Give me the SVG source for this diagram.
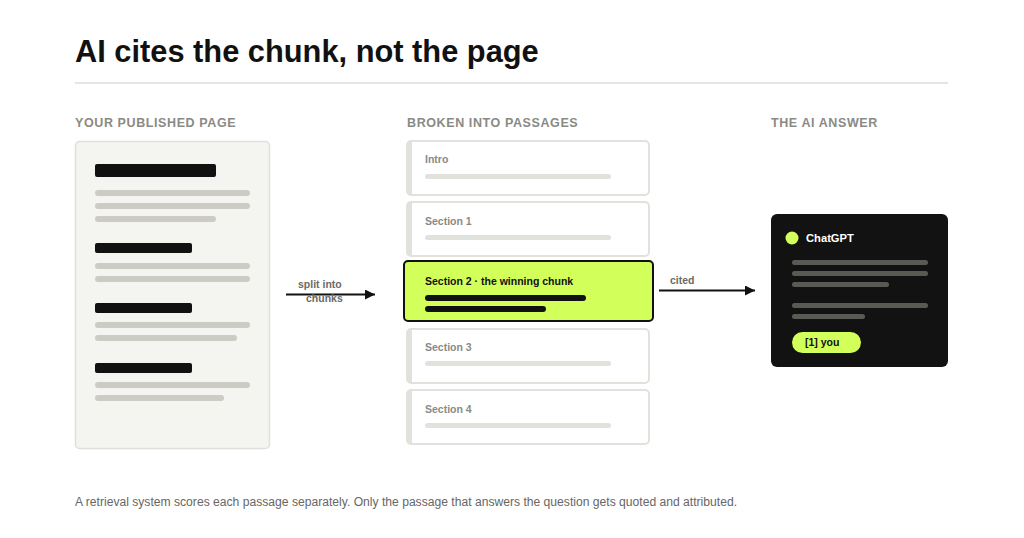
<svg xmlns="http://www.w3.org/2000/svg" width="1024" height="538" viewBox="0 0 1024 538">
<defs>
<style>
text{font-family:"Liberation Sans",Arial,sans-serif}
.title{font-size:30.8px;font-weight:700;fill:#111}
.cap{font-size:12.5px;font-weight:700;fill:#8a8a85;letter-spacing:0.6px}
.lbl{font-size:10.5px;font-weight:700;fill:#8a8a85}
.conn{font-size:10.5px;font-weight:700;fill:#6b6b66}
.hd{fill:#111}
.ln{fill:#ccccc4}
.pbox{fill:#fff;stroke:#e2e2dc;stroke-width:2}
.strip{fill:#e2e2dc}
.pbar{fill:#e2e2dc}
.dln{fill:#5a5a55}
.lime{fill:#d2ff5a}
</style>
<marker id="ah" viewBox="0 0 10 10" refX="10" refY="5" markerWidth="10" markerHeight="10" markerUnits="userSpaceOnUse" orient="auto">
<path d="M0,0 L10,5 L0,10 z" fill="#111"/>
</marker>
</defs>
<rect width="1024" height="538" fill="#fff"/>
<text class="title" x="75" y="62">AI cites the chunk, not the page</text>
<rect x="75" y="82" width="873" height="2" fill="#e6e6e1"/>
<text class="cap" x="75" y="127">YOUR PUBLISHED PAGE</text>
<text class="cap" x="407" y="127">BROKEN INTO PASSAGES</text>
<text class="cap" x="771" y="127">THE AI ANSWER</text>

<g id="page">
<rect x="75.5" y="141.5" width="194" height="307" rx="4" fill="#f4f4f0" stroke="#e0e0da" stroke-width="1.5"/>
<rect class="hd" x="95" y="164" width="121" height="13" rx="2"/>
<rect class="ln" x="95" y="190" width="155" height="6" rx="3"/>
<rect class="ln" x="95" y="203" width="155" height="6" rx="3"/>
<rect class="ln" x="95" y="216" width="121" height="6" rx="3"/>
<rect class="hd" x="95" y="243" width="97" height="10" rx="2"/>
<rect class="ln" x="95" y="263" width="155" height="6" rx="3"/>
<rect class="ln" x="95" y="276" width="155" height="6" rx="3"/>
<rect class="hd" x="95" y="303" width="97" height="10" rx="2"/>
<rect class="ln" x="95" y="322" width="155" height="6" rx="3"/>
<rect class="ln" x="95" y="335" width="142" height="6" rx="3"/>
<rect class="hd" x="95" y="363" width="97" height="10" rx="2"/>
<rect class="ln" x="95" y="382" width="155" height="6" rx="3"/>
<rect class="ln" x="95" y="395" width="129" height="6" rx="3"/>
</g>

<g id="intro">
<rect class="pbox" x="407" y="141" width="242" height="54" rx="4"/>
<rect class="strip" x="408" y="142" width="4" height="52"/>
<text class="lbl" x="425" y="163">Intro</text>
<rect class="pbar" x="425" y="174" width="186" height="5" rx="2.5"/>
</g>
<g id="section1">
<rect class="pbox" x="407" y="202" width="242" height="54" rx="4"/>
<rect class="strip" x="408" y="203" width="4" height="52"/>
<text class="lbl" x="425" y="225">Section 1</text>
<rect class="pbar" x="425" y="235" width="186" height="5" rx="2.5"/>
</g>
<g id="section2">
<rect x="404" y="261" width="249" height="60" rx="4" class="lime" stroke="#111" stroke-width="2"/>
<text class="lbl" x="425" y="285" style="fill:#111">Section 2 · the winning chunk</text>
<rect class="hd" x="425" y="295" width="161" height="6" rx="3"/>
<rect class="hd" x="425" y="306" width="121" height="6" rx="3"/>
</g>
<g id="section3">
<rect class="pbox" x="407" y="329" width="242" height="54" rx="4"/>
<rect class="strip" x="408" y="330" width="4" height="52"/>
<text class="lbl" x="425" y="351">Section 3</text>
<rect class="pbar" x="425" y="361" width="186" height="5" rx="2.5"/>
</g>
<g id="section4">
<rect class="pbox" x="407" y="390" width="242" height="54" rx="4"/>
<rect class="strip" x="408" y="391" width="4" height="52"/>
<text class="lbl" x="425" y="413">Section 4</text>
<rect class="pbar" x="425" y="423" width="186" height="5" rx="2.5"/>
</g>

<g id="answer">
<rect x="771" y="214" width="177" height="153" rx="6" fill="#121212"/>
<circle cx="792" cy="238" r="6.5" class="lime"/>
<text x="806" y="242" style="font-size:11.2px;font-weight:700;fill:#fff">ChatGPT</text>
<rect class="dln" x="792" y="260" width="136" height="5" rx="2.5"/>
<rect class="dln" x="792" y="271" width="136" height="5" rx="2.5"/>
<rect class="dln" x="792" y="282" width="97" height="5" rx="2.5"/>
<rect class="dln" x="792" y="303" width="136" height="5" rx="2.5"/>
<rect class="dln" x="792" y="314" width="73" height="5" rx="2.5"/>
<rect class="lime" x="792" y="332" width="69" height="21" rx="10.5"/>
<text x="805" y="346" style="font-size:10.5px;font-weight:700;fill:#111">[1] you</text>
</g>

<g id="connectors">
<line x1="286" y1="294.5" x2="375" y2="294.5" stroke="#111" stroke-width="2" marker-end="url(#ah)"/>
<text class="conn" x="298" y="288">split into</text>
<text class="conn" x="306" y="302">chunks</text>
<line x1="659" y1="290.5" x2="755" y2="290.5" stroke="#111" stroke-width="2" marker-end="url(#ah)"/>
<text class="conn" x="670" y="284">cited</text>
</g>

<text x="75" y="506" style="font-size:12.5px;fill:#666" textLength="662" lengthAdjust="spacingAndGlyphs">A retrieval system scores each passage separately. Only the passage that answers the question gets quoted and attributed.</text>
</svg>
